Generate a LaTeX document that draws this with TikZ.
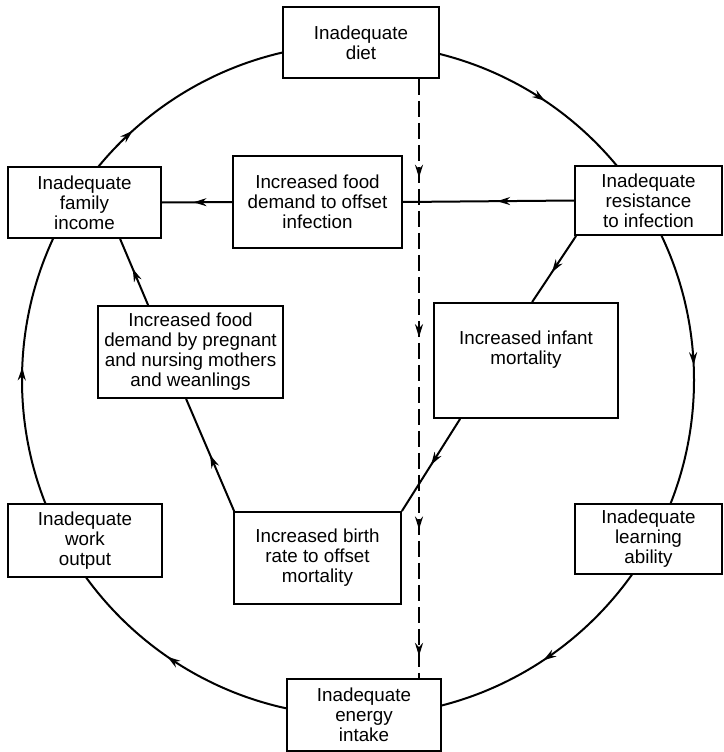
\documentclass[tikz,border=0pt]{standalone}
\usepackage{fontspec}
\setmainfont{Liberation Sans}
\usetikzlibrary{arrows.meta,decorations.markings}
\begin{document}
\begin{tikzpicture}[x=1pt,y=-1pt,
  box/.style={draw, line width=1.8pt, fill=white, inner sep=0pt, align=center,
    font=\fontsize{18.8}{20}\selectfont},
  link/.style={line width=2pt},
  tipshape/.style={},
  midarrow/.style={postaction={decorate}, decoration={markings,
    mark=at position #1 with {\arrow{Stealth[length=13pt,width=8pt]}}}},
  midarrow/.default=0.5,
  dashlink/.style={line width=2pt, dash pattern=on 16pt off 6pt}
]
\useasboundingbox (0,0) rectangle (723,752);
% main cycle
\draw[link, postaction={decorate}, decoration={markings,
    mark=at position 0.157 with {\arrow{Stealth[length=13pt,width=8pt]}},
    mark=at position 0.346 with {\arrow{Stealth[length=13pt,width=8pt]}},
    mark=at position 0.506 with {\arrow{Stealth[length=13pt,width=8pt]}},
    mark=at position 0.633 with {\arrow{Stealth[length=13pt,width=8pt]}},
    mark=at position 0.844 with {\arrow{Stealth[length=13pt,width=8pt]}},
    mark=at position 0.993 with {\arrow{Stealth[length=13pt,width=8pt]}}}]
  (358,380) circle[radius=336];

\node[box, minimum width=156pt, minimum height=71pt] (diet) at (361,42.5) {Inadequate\\diet};
\node[box, minimum width=147pt, minimum height=69pt] (resist) at (648.5,200.5) {Inadequate\\resistance\\to infection};
\node[box, minimum width=147pt, minimum height=70pt] (learn) at (648.5,539) {Inadequate\\learning\\ability};
\node[box, minimum width=154pt, minimum height=72pt] (energy) at (364,715) {Inadequate\\energy\\intake};
\node[box, minimum width=154pt, minimum height=73pt] (work) at (85,540.5) {Inadequate\\work\\output};
\node[box, minimum width=153pt, minimum height=71pt] (income) at (84.5,202.5) {Inadequate\\family\\income};
\node[box, minimum width=169pt, minimum height=92pt] (foodinf) at (317.5,202) {Increased food\\demand to offset\\infection};
\node[box, minimum width=185pt, minimum height=92pt] (preg) at (190.5,352) {Increased food\\demand by pregnant\\and nursing mothers\\and weanlings};
\node[box, minimum width=184pt, minimum height=115pt] (infant) at (526,360.5) {Increased infant\\mortality\\[6pt]\mbox{}};
\node[box, minimum width=167pt, minimum height=92pt] (birth) at (317.5,558) {Increased birth\\rate to offset\\mortality};

\coordinate (dashx) at (419,0);
\draw[dashlink, postaction={decorate}, decoration={markings,
    mark=at position 0.165 with {\arrow{Stealth[length=13pt,width=8pt]}},
    mark=at position 0.431 with {\arrow{Stealth[length=13pt,width=8pt]}},
    mark=at position 0.752 with {\arrow{Stealth[length=13pt,width=8pt]}},
    mark=at position 0.963 with {\arrow{Stealth[length=13pt,width=8pt]}}}]
  (diet.south -| dashx) -- (energy.north -| dashx);

\draw[link, midarrow=0.45] (resist.west) -- (foodinf.east);
\draw[link, midarrow=0.55] (foodinf.west) -- (income.east);
\draw[link, midarrow=0.55] ([xshift=2pt]resist.south west) -- ([xshift=99pt]infant.north west);
\draw[link, midarrow=0.5] ([xshift=27pt]infant.south west) -- (birth.north east);
\draw[link, midarrow=0.5] ([xshift=1pt]birth.north west) -- ([xshift=89pt]preg.south west);
\draw[link, midarrow=0.55] ([xshift=51pt]preg.north west) -- ([xshift=113pt]income.south west);
\end{tikzpicture}
\end{document}
